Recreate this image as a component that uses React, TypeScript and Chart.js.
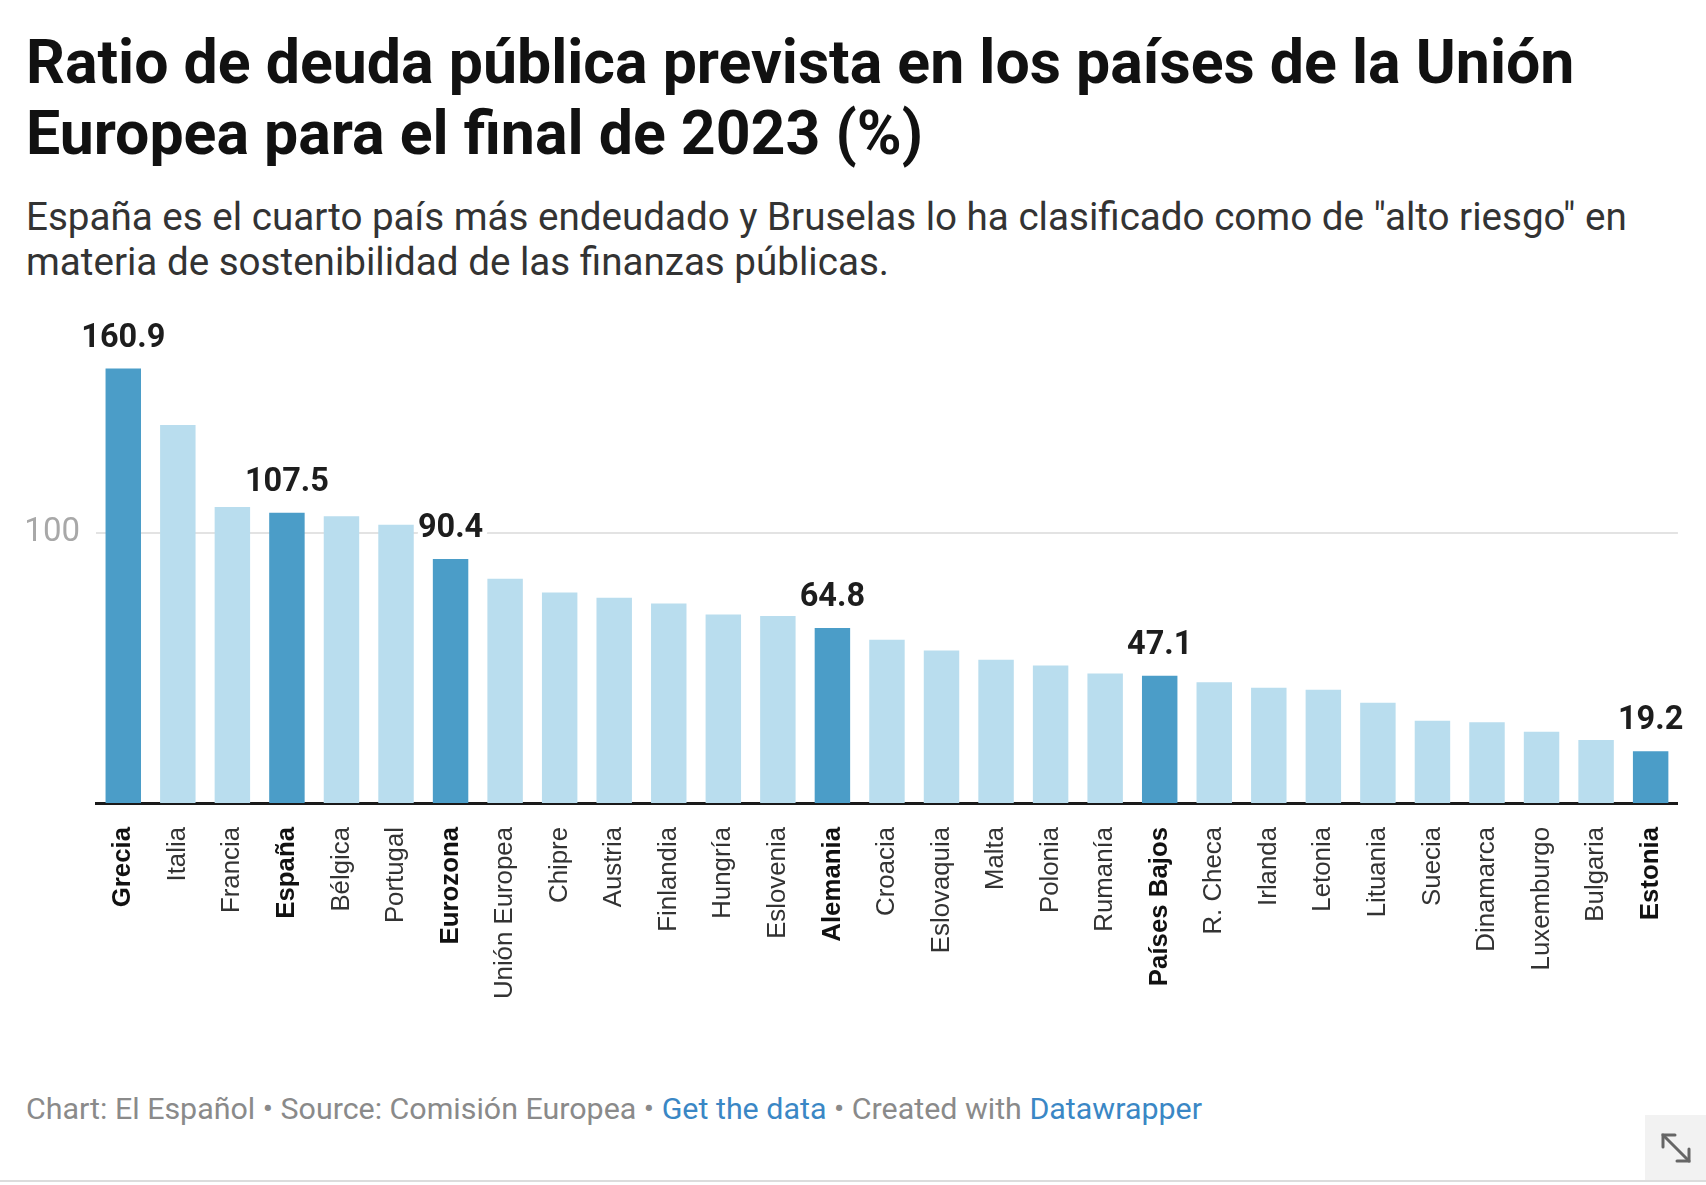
import React, { useEffect, useRef } from "react";
import { Chart, registerables } from "chart.js";

Chart.register(...registerables);

const categories = [
  "Grecia", "Italia", "Francia", "España", "Bélgica", "Portugal", "Eurozona",
  "Unión Europea", "Chipre", "Austria", "Finlandia", "Hungría", "Eslovenia",
  "Alemania", "Croacia", "Eslovaquia", "Malta", "Polonia", "Rumanía",
  "Países Bajos", "R. Checa", "Irlanda", "Letonia", "Lituania", "Suecia",
  "Dinamarca", "Luxemburgo", "Bulgaria", "Estonia",
];

const debtRatio = [
  160.9, 140.0, 109.6, 107.5, 106.2, 103.1, 90.4,
  83.1, 78.0, 76.0, 73.9, 69.8, 69.3,
  64.8, 60.5, 56.5, 53.1, 50.9, 48.0,
  47.1, 44.7, 42.7, 41.9, 37.1, 30.5,
  29.9, 26.4, 23.3, 19.2,
];

const highlighted = ["Grecia", "España", "Eurozona", "Alemania", "Países Bajos", "Estonia"];

const yTickValues = [100];

const DARK = "#4b9dc8";
const LIGHT = "#b9ddee";

const labelPlugin = {
  id: "valueLabels",
  afterDatasetsDraw(chart: any) {
    const ctx = chart.ctx;
    const meta = chart.getDatasetMeta(0);
    ctx.save();
    ctx.font = "bold 32.5px Roboto";
    ctx.textAlign = "center";
    ctx.textBaseline = "alphabetic";
    ctx.lineJoin = "round";
    meta.data.forEach((bar: any, i: number) => {
      if (!highlighted.includes(categories[i])) return;
      const txt = debtRatio[i].toFixed(1);
      const y = bar.y - 22;
      ctx.strokeStyle = "#ffffff";
      ctx.lineWidth = 10;
      ctx.strokeText(txt, bar.x, y);
      ctx.fillStyle = "#1d1d1d";
      ctx.fillText(txt, bar.x, y);
    });
    ctx.restore();
  },
};

function BarChart() {
  const ref = useRef<HTMLCanvasElement | null>(null);
  useEffect(() => {
    if (!ref.current) return;
    const chart = new Chart(ref.current, {
      type: "bar",
      data: {
        labels: categories,
        datasets: [
          {
            data: debtRatio,
            backgroundColor: categories.map((c) => (highlighted.includes(c) ? DARK : LIGHT)),
            borderWidth: 0,
            categoryPercentage: 1,
            barPercentage: 0.65,
          },
        ],
      },
      options: {
        animation: false,
        responsive: false,
        maintainAspectRatio: false,
        layout: { padding: { top: 54, right: 23, left: 0, bottom: 0 } },
        plugins: { legend: { display: false }, tooltip: { enabled: false }, title: { display: false } },
        scales: {
          x: {
            grid: { display: false, drawTicks: false },
            border: { display: true, color: "#1a1a1a", width: 3 },
            afterFit: (scale: any) => {
              scale.height = 257;
            },
            ticks: {
              autoSkip: false,
              maxRotation: 90,
              minRotation: 90,
              padding: 24,
              color: (ctx: any) => (highlighted.includes(categories[ctx.index]) ? "#111111" : "#333333"),
              font: (ctx: any) => ({
                family: "'Liberation Sans', Arial, sans-serif",
                size: 25.8,
                weight: highlighted.includes(categories[ctx.index]) ? "bold" : "normal",
              }),
            },
          },
          y: {
            min: 0,
            max: 170,
            afterFit: (scale: any) => {
              scale.width = 96;
            },
            afterBuildTicks: (scale: any) => {
              scale.ticks = yTickValues.map((v) => ({ value: v }));
            },
            border: { display: false },
            grid: {
              drawTicks: false,
              color: "#e3e3e3",
              lineWidth: 2,
            },
            ticks: {
              padding: 16,
              color: "#a8a8a8",
              font: { family: "Roboto", size: 33 },
              callback: (v: any) => String(v),
            },
          },
        },
      },
      plugins: [labelPlugin],
    });
    return () => chart.destroy();
  }, []);
  return (
    <canvas
      ref={ref}
      width={1706}
      height={770}
      style={{ position: "absolute", left: 0, top: 290, width: 1706, height: 770 }}
    />
  );
}

export default function App() {
  return (
    <div
      style={{
        position: "fixed",
        left: 0,
        top: 0,
        width: 1706,
        height: 1185,
        background: "#ffffff",
        overflow: "hidden",
        fontFamily: "Roboto, sans-serif",
      }}
    >
      <div
        style={{
          position: "absolute",
          left: 26,
          top: 28,
          fontSize: 60.8,
          lineHeight: "70.7px",
          fontWeight: 700,
          color: "#111111",
          whiteSpace: "nowrap",
        }}
      >
        Ratio de deuda pública prevista en los países de la Unión
        <br />
        Europea para el final de 2023 (%)
      </div>
      <div
        style={{
          position: "absolute",
          left: 26,
          top: 195,
          fontSize: 38.6,
          lineHeight: "44.6px",
          color: "#333333",
          whiteSpace: "nowrap",
        }}
      >
        España es el cuarto país más endeudado y Bruselas lo ha clasificado como de "alto riesgo" en
        <br />
        materia de sostenibilidad de las finanzas públicas.
      </div>
      <BarChart />
      <div
        style={{
          position: "absolute",
          left: 26,
          top: 1091,
          fontSize: 30.4,
          lineHeight: "36px",
          color: "#8a8a8a",
          whiteSpace: "nowrap",
        }}
      >
        Chart: El Español • Source: Comisión Europea •{" "}
        <span style={{ color: "#3a87c5" }}>Get the data</span> • Created with{" "}
        <span style={{ color: "#3a87c5" }}>Datawrapper</span>
      </div>
      <div
        style={{
          position: "absolute",
          left: 1645,
          top: 1115,
          width: 61,
          height: 66,
          background: "#f2f2f2",
        }}
      >
        <svg width="61" height="66" viewBox="0 0 61 66">
          <g stroke="#666" strokeWidth="3" fill="none" strokeLinecap="round">
            <line x1="18" y1="20" x2="44" y2="46" />
            <polyline points="18,32 18,20 30,20" />
            <polyline points="32,46 44,46 44,34" />
          </g>
        </svg>
      </div>
      <div
        style={{
          position: "absolute",
          left: 0,
          top: 1180,
          width: 1706,
          height: 2,
          background: "#dcdcdc",
        }}
      />
    </div>
  );
}
